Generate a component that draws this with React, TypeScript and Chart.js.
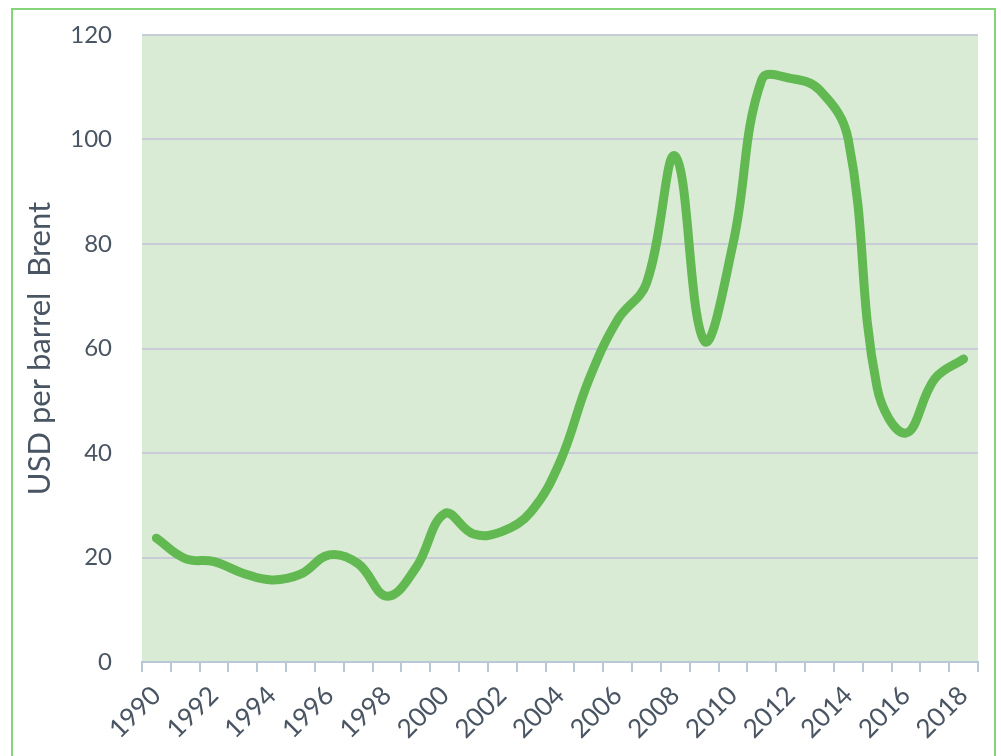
import React, { useEffect, useRef } from "react";
import { Chart, registerables } from "chart.js";

Chart.register(...registerables);

const years: string[] = [
  "1990", "1991", "1992", "1993", "1994", "1995", "1996", "1997", "1998", "1999",
  "2000", "2001", "2002", "2003", "2004", "2005", "2006", "2007", "2008", "2009",
  "2010", "2011", "2012", "2013", "2014", "2015", "2016", "2017", "2018",
];

const brentPrice: number[] = [
  23.7, 19.8, 19.2, 17.0, 15.7, 16.8, 20.5, 18.8, 12.6, 18.0,
  28.4, 24.5, 25.0, 28.8, 38.3, 54.0, 65.5, 72.5, 96.8, 61.5,
  80.0, 111.5, 111.7, 109.5, 100.0, 52.5, 43.8, 54.2, 58.0,
];

const yTicks: number[] = [0, 20, 40, 60, 80, 100, 120];

const FONT = "Lato, 'Open Sans', sans-serif";
const TEXT = "#4a5563";

const bgPlugin = {
  id: "plotBg",
  beforeDraw(chart: any) {
    const { ctx, chartArea } = chart;
    if (!chartArea) return;
    ctx.save();
    ctx.fillStyle = "#d9ebd4";
    ctx.fillRect(chartArea.left, chartArea.top, chartArea.right - chartArea.left, chartArea.bottom - chartArea.top);
    ctx.restore();
  },
};

export default function App() {
  const ref = useRef<HTMLCanvasElement | null>(null);
  useEffect(() => {
    if (!ref.current) return;
    const chart = new Chart(ref.current, {
      type: "line",
      data: {
        labels: years,
        datasets: [
          {
            label: "Brent",
            data: brentPrice,
            borderColor: "#62b952",
            borderWidth: 9,
            pointRadius: 0,
            tension: 0.4,
            fill: false,
            borderCapStyle: "round",
            borderJoinStyle: "round",
          },
        ],
      },
      options: {
        animation: false,
        responsive: false,
        maintainAspectRatio: false,
        layout: { padding: { top: 35, left: 12, right: 23, bottom: 0 } },
        plugins: { legend: { display: false }, tooltip: { enabled: false } },
        scales: {
          x: {
            type: "category",
            offset: true,
            afterFit: (s: any) => { s.height = 94; },
            grid: {
              offset: true,
              drawOnChartArea: false,
              drawTicks: true,
              tickLength: 10,
              color: "#b9c8d6",
              lineWidth: 2,
            },
            border: { display: true, color: "#b9c8d6", width: 2 },
            ticks: {
              autoSkip: false,
              maxRotation: 45,
              minRotation: 45,
              padding: 8,
              color: TEXT,
              font: { family: FONT, size: 26 },
              callback: (_v: any, i: number) => (i % 2 === 0 ? years[i] : ""),
            },
          },
          y: {
            min: 0,
            max: 120,
            afterFit: (s: any) => {
              s.width = 130;
              s.paddingTop = 0;
              s.paddingBottom = 0;
            },
            afterBuildTicks: (s: any) => { s.ticks = yTicks.map((v) => ({ value: v })); },
            grid: { drawTicks: false, color: "#c8ccd6", lineWidth: 2 },
            border: { display: false },
            ticks: {
              padding: 30,
              color: TEXT,
              font: { family: FONT, size: 24 },
            },
            title: {
              display: true,
              text: "USD per barrel  Brent",
              color: TEXT,
              font: { family: FONT, size: 31 },
              padding: { top: 9, bottom: 0 },
            },
          },
        },
      },
      plugins: [bgPlugin],
    });
    return () => chart.destroy();
  }, []);

  return (
    <div style={{ position: "absolute", left: 0, top: 0, width: 1001, height: 756, background: "#fff", overflow: "hidden" }}>
      <div style={{ position: "absolute", left: 11, top: 8, width: 985, height: 760, border: "2px solid #86d47a", boxSizing: "border-box" }} />
      <canvas ref={ref} width={1001} height={756} style={{ position: "absolute", left: 0, top: 0, width: 1001, height: 756 }} />
    </div>
  );
}
